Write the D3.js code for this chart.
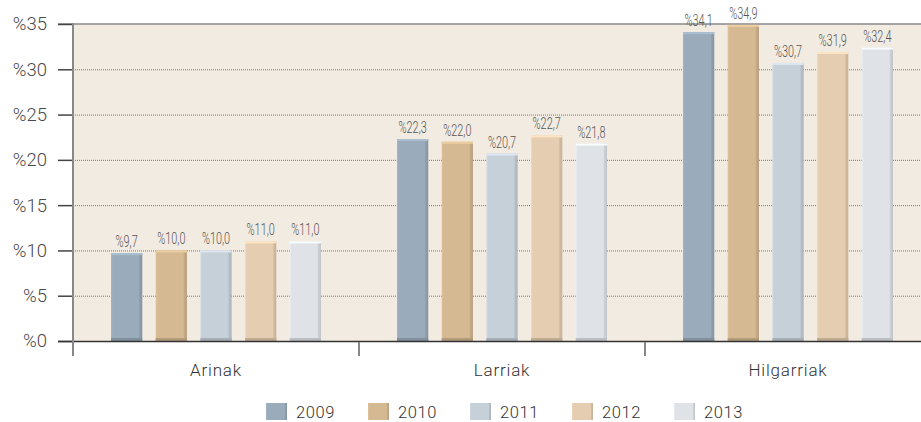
<!DOCTYPE html>
<html>
<head>
<meta charset="utf-8">
<script src="https://cdn.jsdelivr.net/npm/d3@7"></script>
<style>
  body { margin: 0; background: #fff; }
  svg { display: block; font-family: Roboto, "DejaVu Sans", sans-serif; }
</style>
</head>
<body>
<script>
var categories = ["Arinak", "Larriak", "Hilgarriak"];
var years = ["2009", "2010", "2011", "2012", "2013"];
var values2009 = [9.7, 22.3, 34.1];
var values2010 = [10.0, 22.0, 34.9];
var values2011 = [10.0, 20.7, 30.7];
var values2012 = [11.0, 22.7, 31.9];
var values2013 = [11.0, 21.8, 32.4];
var yTicks = [0, 5, 10, 15, 20, 25, 30, 35];
var colors = ["#9aacbb", "#d5b992", "#c6d0d9", "#e4cdb0", "#dfe3e8"];

var series = [values2009, values2010, values2011, values2012, values2013];

var svg = d3.select('body').append('svg')
  .attr('width', 921)
  .attr('height', 422);

var x0 = d3.scaleBand().domain(categories).range([73, 931]);
var x1 = d3.scaleBand().domain(years).range([38, 248]).paddingInner(0.3);
var y = d3.scaleLinear().domain([0, 35]).range([341, 24]);
var color = d3.scaleOrdinal().domain(years).range(colors);

// gradients for the bevelled bars
var defs = svg.append('defs');
years.forEach(function(yr) {
  var c = d3.color(color(yr));
  var g = defs.append('linearGradient').attr('id', 'g' + yr)
    .attr('x1', '0%').attr('x2', '100%').attr('y1', '0%').attr('y2', '0%');
  g.append('stop').attr('offset', '0%').attr('stop-color', c.brighter(0.15));
  g.append('stop').attr('offset', '6%').attr('stop-color', c);
  g.append('stop').attr('offset', '88%').attr('stop-color', c);
  g.append('stop').attr('offset', '92%').attr('stop-color', c.darker(0.25));
  g.append('stop').attr('offset', '100%').attr('stop-color', c.darker(0.4));
});

// plot background
svg.append('rect')
  .attr('x', 73).attr('y', 24)
  .attr('width', 931 - 73).attr('height', 341 - 24)
  .attr('fill', '#f2ebe1');

// gridlines
svg.append('g').selectAll('line')
  .data(yTicks.filter(d => d > 0 && d < 35))
  .enter().append('line')
  .attr('x1', 73).attr('x2', 921)
  .attr('y1', d => y(d) + 0.5).attr('y2', d => y(d) + 0.5)
  .attr('stroke', '#777')
  .attr('stroke-dasharray', '1,1');

// top line
svg.append('line')
  .attr('x1', 58).attr('x2', 921)
  .attr('y1', y(35)).attr('y2', y(35))
  .attr('stroke', '#888').attr('stroke-width', 1.5);

// y axis
var yAxis = d3.axisLeft(y)
  .tickValues(yTicks)
  .tickSize(15)
  .tickPadding(11)
  .tickFormat(d => '%' + d);

var ya = svg.append('g')
  .attr('transform', 'translate(73,0)')
  .call(yAxis);
ya.select('.domain').remove();
ya.selectAll('.tick line').attr('stroke', '#444').attr('stroke-width', 1.5);
ya.selectAll('.tick text')
  .attr('font-size', 18.5)
  .attr('font-family', 'Roboto, sans-serif')
  .attr('font-weight', 300)
  .attr('fill', '#4a4a4a');

// bars
var groups = svg.append('g').selectAll('g')
  .data(categories)
  .enter().append('g')
  .attr('transform', d => 'translate(' + x0(d) + ',0)');

groups.each(function(cat, ci) {
  var gg = d3.select(this);
  var rows = years.map((yr, i) => ({ year: yr, value: series[i][ci] }));

  gg.selectAll('rect.bar')
    .data(rows)
    .enter().append('rect')
    .attr('class', 'bar')
    .attr('x', d => x1(d.year))
    .attr('y', d => y(d.value))
    .attr('width', x1.bandwidth())
    .attr('height', d => y(0) - y(d.value))
    .attr('fill', d => 'url(#g' + d.year + ')');

  // top highlight
  gg.selectAll('rect.top')
    .data(rows)
    .enter().append('rect')
    .attr('class', 'top')
    .attr('x', d => x1(d.year))
    .attr('y', d => y(d.value))
    .attr('width', x1.bandwidth())
    .attr('height', 2)
    .attr('fill', d => d3.color(color(d.year)).brighter(0.3));

  // bottom shade
  gg.selectAll('rect.bot')
    .data(rows)
    .enter().append('rect')
    .attr('class', 'bot')
    .attr('x', d => x1(d.year))
    .attr('y', y(0) - 3)
    .attr('width', x1.bandwidth())
    .attr('height', 3)
    .attr('fill', d => d3.color(color(d.year)).darker(0.5));

  gg.selectAll('text.val')
    .data(rows)
    .enter().append('text')
    .attr('class', 'val')
    .attr('transform', d => 'translate(' + (x1(d.year) + x1.bandwidth() / 2) + ',' + (y(d.value) - 6) + ') scale(0.68,1)')
    .attr('text-anchor', 'middle')
    .attr('font-size', 16)
    .attr('font-weight', 300)
    .attr('fill', '#555')
    .text(d => '%' + d.value.toFixed(1).replace('.', ','));
});

// x axis line
svg.append('line')
  .attr('x1', 58).attr('x2', 921)
  .attr('y1', y(0) + 0.5).attr('y2', y(0) + 0.5)
  .attr('stroke', '#333').attr('stroke-width', 1.5);

// left vertical axis
svg.append('line')
  .attr('x1', 73).attr('x2', 73)
  .attr('y1', 23).attr('y2', 356)
  .attr('stroke', '#888').attr('stroke-width', 2);

// category separators
svg.append('g').selectAll('line')
  .data(categories.slice(1))
  .enter().append('line')
  .attr('x1', d => x0(d)).attr('x2', d => x0(d))
  .attr('y1', y(0) + 1).attr('y2', 356)
  .attr('stroke', '#888').attr('stroke-width', 2);

// category labels
svg.append('g').selectAll('text')
  .data(categories)
  .enter().append('text')
  .attr('x', d => x0(d) + x0.bandwidth() / 2)
  .attr('y', 376)
  .attr('text-anchor', 'middle')
  .attr('font-size', 17)
  .attr('font-weight', 300)
  .attr('letter-spacing', 0.8)
  .attr('fill', '#333')
  .text(d => d);

// legend
var legend = svg.append('g').selectAll('g')
  .data(years)
  .enter().append('g')
  .attr('transform', (d, i) => 'translate(' + (266 + i * 102) + ',403)');

legend.append('rect')
  .attr('width', 21).attr('height', 17)
  .attr('fill', d => 'url(#g' + d + ')');

legend.append('text')
  .attr('x', 30).attr('y', 15)
  .attr('font-size', 16.5)
  .attr('font-weight', 300)
  .attr('letter-spacing', 0.6)
  .attr('fill', '#333')
  .text(d => d);
</script>
</body>
</html>
